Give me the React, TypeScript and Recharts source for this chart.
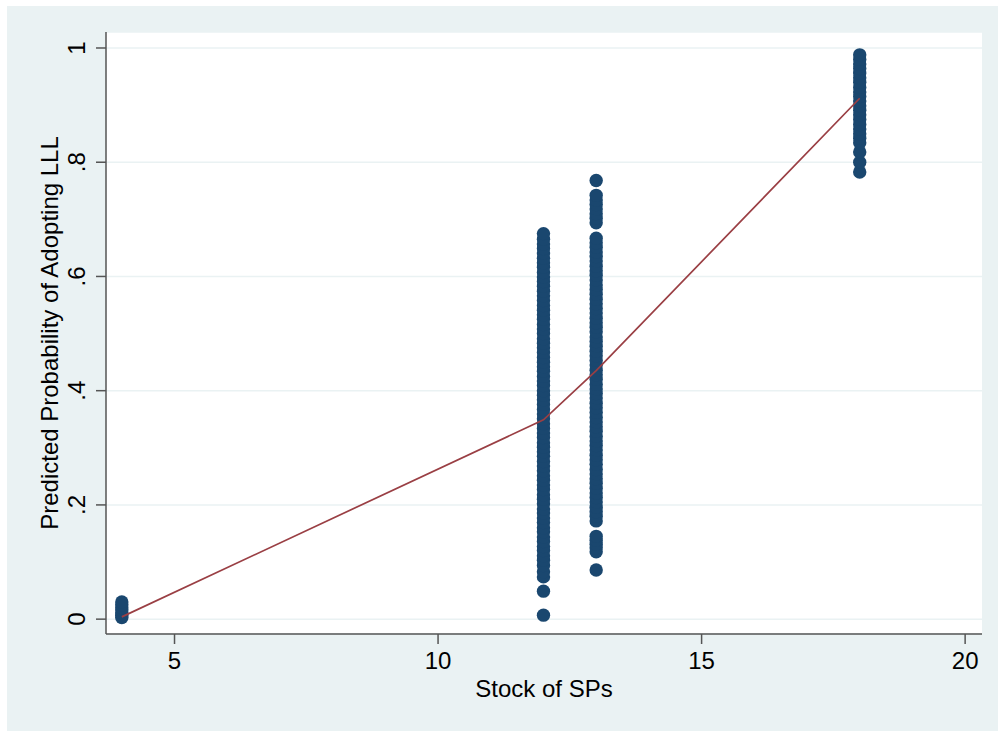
import React from 'react';
import { ScatterChart, Scatter, XAxis, YAxis, CartesianGrid } from 'recharts';

const navy = '#1A476F';
const maroon = '#9A3F44';
const axisGray = '#555555';
const bgColor = '#EAF2F3';
const font = '"Liberation Sans", Arial, Helvetica, sans-serif';

// Predicted probabilities per stock level
const probs4 = [0.003, 0.007, 0.011, 0.016, 0.02, 0.025, 0.03];
const probs12 = [
  0.007, 0.049, 0.074, 0.083, 0.094, 0.103, 0.111, 0.12, 0.127, 0.136, 0.144, 0.153, 0.16, 0.169,
  0.177, 0.186, 0.193, 0.202, 0.21, 0.218, 0.227, 0.235, 0.243, 0.251, 0.26, 0.268, 0.276, 0.285,
  0.293, 0.301, 0.309, 0.318, 0.326, 0.334, 0.342, 0.351, 0.359, 0.367, 0.376, 0.384, 0.392, 0.4,
  0.409, 0.417, 0.425, 0.434, 0.442, 0.45, 0.458, 0.467, 0.475, 0.483, 0.491, 0.5, 0.508, 0.516,
  0.525, 0.533, 0.541, 0.549, 0.558, 0.566, 0.574, 0.583, 0.591, 0.599, 0.607, 0.616, 0.624, 0.632,
  0.641, 0.649, 0.657, 0.665, 0.675,
];
const probs13 = [
  0.086, 0.118, 0.125, 0.131, 0.138, 0.145, 0.172, 0.18, 0.188, 0.196, 0.205, 0.213, 0.221, 0.229,
  0.238, 0.246, 0.254, 0.262, 0.271, 0.279, 0.287, 0.296, 0.304, 0.312, 0.32, 0.329, 0.337, 0.345,
  0.353, 0.362, 0.37, 0.378, 0.387, 0.395, 0.403, 0.411, 0.42, 0.428, 0.436, 0.445, 0.453, 0.461,
  0.469, 0.478, 0.486, 0.494, 0.503, 0.511, 0.519, 0.527, 0.536, 0.544, 0.552, 0.56, 0.569, 0.577,
  0.585, 0.594, 0.602, 0.61, 0.618, 0.627, 0.635, 0.643, 0.651, 0.659, 0.667, 0.694, 0.702, 0.71,
  0.718, 0.726, 0.734, 0.742, 0.768,
];
const probs18 = [
  0.783, 0.8, 0.818, 0.834, 0.842, 0.85, 0.858, 0.866, 0.875, 0.883, 0.891, 0.899, 0.907, 0.915,
  0.923, 0.931, 0.94, 0.948, 0.956, 0.964, 0.972, 0.98, 0.988,
];

// Fitted line
const fitX = [4, 12, 13, 18];
const fitY = [0.004, 0.349, 0.435, 0.912];

const xTicks = [5, 10, 15, 20];
const yTicks = [0, 0.2, 0.4, 0.6, 0.8, 1];

const points = [
  ...probs4.map((y) => ({ x: 4, y })),
  ...probs12.map((y) => ({ x: 12, y })),
  ...probs13.map((y) => ({ x: 13, y })),
  ...probs18.map((y) => ({ x: 18, y })),
];
const fitData = fitX.map((x, i) => ({ x, y: fitY[i] }));

const fmtY = (v: number) => (v === 0 ? '0' : v === 1 ? '1' : String(v).replace(/^0/, ''));

const XTick = ({ x, y, payload }: any) => (
  <text x={x} y={y + 23} textAnchor="middle" fontSize={24} fontFamily={font} fill="#000">
    {payload.value}
  </text>
);

const YTick = ({ x, y, payload }: any) => (
  <text
    transform={`translate(${x - 9}, ${y}) rotate(-90)`}
    textAnchor="middle"
    fontSize={24}
    fontFamily={font}
    fill="#000"
  >
    {fmtY(payload.value)}
  </text>
);

const Dot = (props: any) => <circle cx={props.cx} cy={props.cy} r={6.7} fill={navy} />;
const NoDot = () => <g />;

const App = () => {
  return (
    <div style={{ position: 'absolute', left: 0, top: 0, width: 998, height: 731, background: '#fff' }}>
      <div style={{ position: 'absolute', left: 7, top: 6, width: 991, height: 725, background: bgColor }} />
      <div style={{ position: 'absolute', left: 0, top: 0 }}>
        <ScatterChart width={998} height={731} margin={{ top: 32, right: 16, bottom: 37, left: 6 }}>
          <CartesianGrid vertical={false} fill="#fff" stroke={bgColor} strokeWidth={1.5} />
          <XAxis
            type="number"
            dataKey="x"
            domain={[3.7, 20.32]}
            ticks={xTicks}
            height={60}
            stroke={axisGray}
            strokeWidth={1.5}
            tickSize={10}
            tick={<XTick />}
            label={{ value: 'Stock of SPs', position: 'insideBottom', offset: -3, fontSize: 24, fontFamily: font, fill: '#000' }}
          />
          <YAxis
            type="number"
            dataKey="y"
            domain={[-0.026, 1.028]}
            ticks={yTicks}
            width={100}
            stroke={axisGray}
            strokeWidth={1.5}
            tickSize={10}
            tick={<YTick />}
            label={{
              value: 'Predicted Probability of Adopting LLL',
              angle: -90,
              position: 'insideLeft',
              offset: 43,
              fontSize: 24,
              fontFamily: font,
              fill: '#000',
              style: { textAnchor: 'middle' },
            }}
          />
          <Scatter data={points} shape={<Dot />} isAnimationActive={false} />
          <Scatter
            data={fitData}
            shape={<NoDot />}
            line={{ stroke: maroon, strokeWidth: 1.7 }}
            isAnimationActive={false}
          />
        </ScatterChart>
      </div>
    </div>
  );
};

export default App;
